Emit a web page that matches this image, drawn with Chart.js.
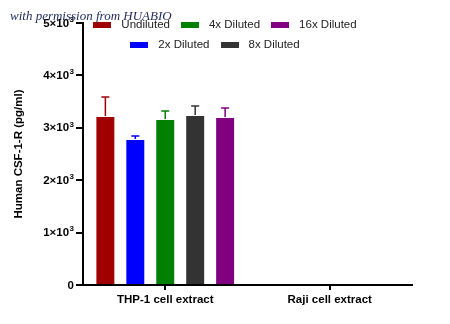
<!DOCTYPE html>
<html><head><meta charset="utf-8">
<script src="https://cdn.jsdelivr.net/npm/chart.js@4/dist/chart.umd.min.js"></script>
<style>
html,body{margin:0;padding:0;background:#fff;}
#wrap{position:relative;width:450px;height:324px;}
#wm{position:absolute;left:10px;top:8px;font:italic 13px "Liberation Serif",serif;color:#1b2a5c;white-space:nowrap;z-index:2;}
.lg{position:absolute;left:0;width:450px;display:flex;justify-content:center;font:11.5px "Liberation Sans",Arial,sans-serif;color:#222;line-height:13px;}
.it{display:flex;align-items:center;margin:0 5.5px;}
.bx{width:18px;height:6px;margin-right:10px;}
</style></head><body>
<div id="wrap">
<canvas id="c" width="450" height="324"></canvas>
<div id="wm">with permission from HUABIO</div>
<div class="lg" id="row1" style="top:18px"></div>
<div class="lg" id="row2" style="top:38px;left:-10px"></div>
</div>
<script>
const categories = ["THP-1 cell extract", "Raji cell extract"];
const seriesNames = ["Undiluted", "2x Diluted", "4x Diluted", "8x Diluted", "16x Diluted"];
const seriesColors = ["#a00000", "#0000ff", "#008000", "#333333", "#800080"];
const undiluted = [3225, null];
const diluted2x = [2786, null];
const diluted4x = [3168, null];
const diluted8x = [3244, null];
const diluted16x = [3206, null];
const errUndiluted = [365, null];
const err2x = [57, null];
const err4x = [152, null];
const err8x = [172, null];
const err16x = [172, null];
const yTicks = [0, 1000, 2000, 3000, 4000, 5000];
const yTickMantissa = ["0", "1×10", "2×10", "3×10", "4×10", "5×10"];
const yTickExponent = ["", "3", "3", "3", "3", "3"];

const values = [undiluted, diluted2x, diluted4x, diluted8x, diluted16x];
const errors = [errUndiluted, err2x, err4x, err8x, err16x];

const datasets = seriesNames.map((n, i) => ({
  label: n,
  data: values[i],
  errors: errors[i],
  backgroundColor: seriesColors[i],
  borderColor: 'rgba(255,255,255,0.3)',
  borderWidth: 1,
  categoryPercentage: 0.91,
  barPercentage: 0.667
}));

const order1 = [0, 2, 4], order2 = [1, 3];
function fillRow(id, idx) {
  const row = document.getElementById(id);
  idx.forEach(i => {
    const it = document.createElement('div'); it.className = 'it';
    const b = document.createElement('div'); b.className = 'bx'; b.style.background = seriesColors[i];
    const t = document.createElement('span'); t.textContent = seriesNames[i];
    it.appendChild(b); it.appendChild(t); row.appendChild(it);
  });
}
fillRow('row1', order1); fillRow('row2', order2);

const errorBars = {
  id: 'errorBars',
  afterDatasetsDraw(chart) {
    const ctx = chart.ctx, ys = chart.scales.y;
    chart.data.datasets.forEach((ds, di) => {
      const meta = chart.getDatasetMeta(di);
      meta.data.forEach((el, j) => {
        const v = ds.data[j], e = ds.errors[j];
        if (v == null || e == null) return;
        const yTop = ys.getPixelForValue(v + e), yBar = ys.getPixelForValue(v);
        ctx.save();
        ctx.strokeStyle = ds.backgroundColor; ctx.lineWidth = 1.5;
        ctx.beginPath();
        ctx.moveTo(el.x, yBar); ctx.lineTo(el.x, yTop);
        ctx.moveTo(el.x - 4, yTop); ctx.lineTo(el.x + 4, yTop);
        ctx.stroke();
        ctx.restore();
      });
    });
  }
};

const supLabels = {
  id: 'supLabels',
  afterDraw(chart) {
    const ctx = chart.ctx, ys = chart.scales.y;
    const xr = ys.right - 9;
    ctx.save();
    ctx.fillStyle = '#000';
    ctx.textBaseline = 'middle';
    ctx.textAlign = 'right';
    yTicks.forEach((v, k) => {
      const y = ys.getPixelForValue(v);
      let x = xr;
      if (yTickExponent[k]) {
        ctx.font = 'bold 8px "Liberation Sans"';
        ctx.fillText(yTickExponent[k], x, y - 3.5);
        x -= ctx.measureText(yTickExponent[k]).width + 0.5;
      }
      ctx.font = 'bold 11.5px "Liberation Sans"';
      ctx.fillText(yTickMantissa[k], x, y + 0.5);
    });
    ctx.restore();
  }
};

new Chart(document.getElementById('c'), {
  type: 'bar',
  data: { labels: categories, datasets },
  plugins: [errorBars, supLabels],
  options: {
    responsive: false, animation: false,
    layout: { padding: { left: 12, right: 38, top: 23, bottom: 0 } },
    plugins: { legend: { display: false }, tooltip: { enabled: false } },
    scales: {
      x: {
        grid: { display: true, drawOnChartArea: false, offset: false, color: '#000', lineWidth: 2, tickLength: 5 },
        border: { color: '#000', width: 2 },
        ticks: { color: '#000', font: { family: 'Liberation Sans', size: 11.5, weight: 'bold' }, padding: 3 },
        afterFit(s) { s.height = 39; }
      },
      y: {
        min: 0, max: 5000,
        afterBuildTicks(s) { s.ticks = yTicks.map(v => ({ value: v })); },
        grid: { display: true, drawOnChartArea: false, color: '#000', lineWidth: 2, tickLength: 7 },
        border: { color: '#000', width: 2 },
        ticks: { color: '#000', font: { family: 'Liberation Sans', size: 11.5, weight: 'bold' }, padding: 1, callback() { return ''; } },
        title: { display: true, text: 'Human CSF-1-R (pg/ml)', color: '#000', font: { family: 'Liberation Sans', size: 11.5, weight: 'bold' }, padding: { top: 0, bottom: 6 } },
        afterFit(s) { s.width = 71; }
      }
    }
  }
});
</script>
</body></html>
